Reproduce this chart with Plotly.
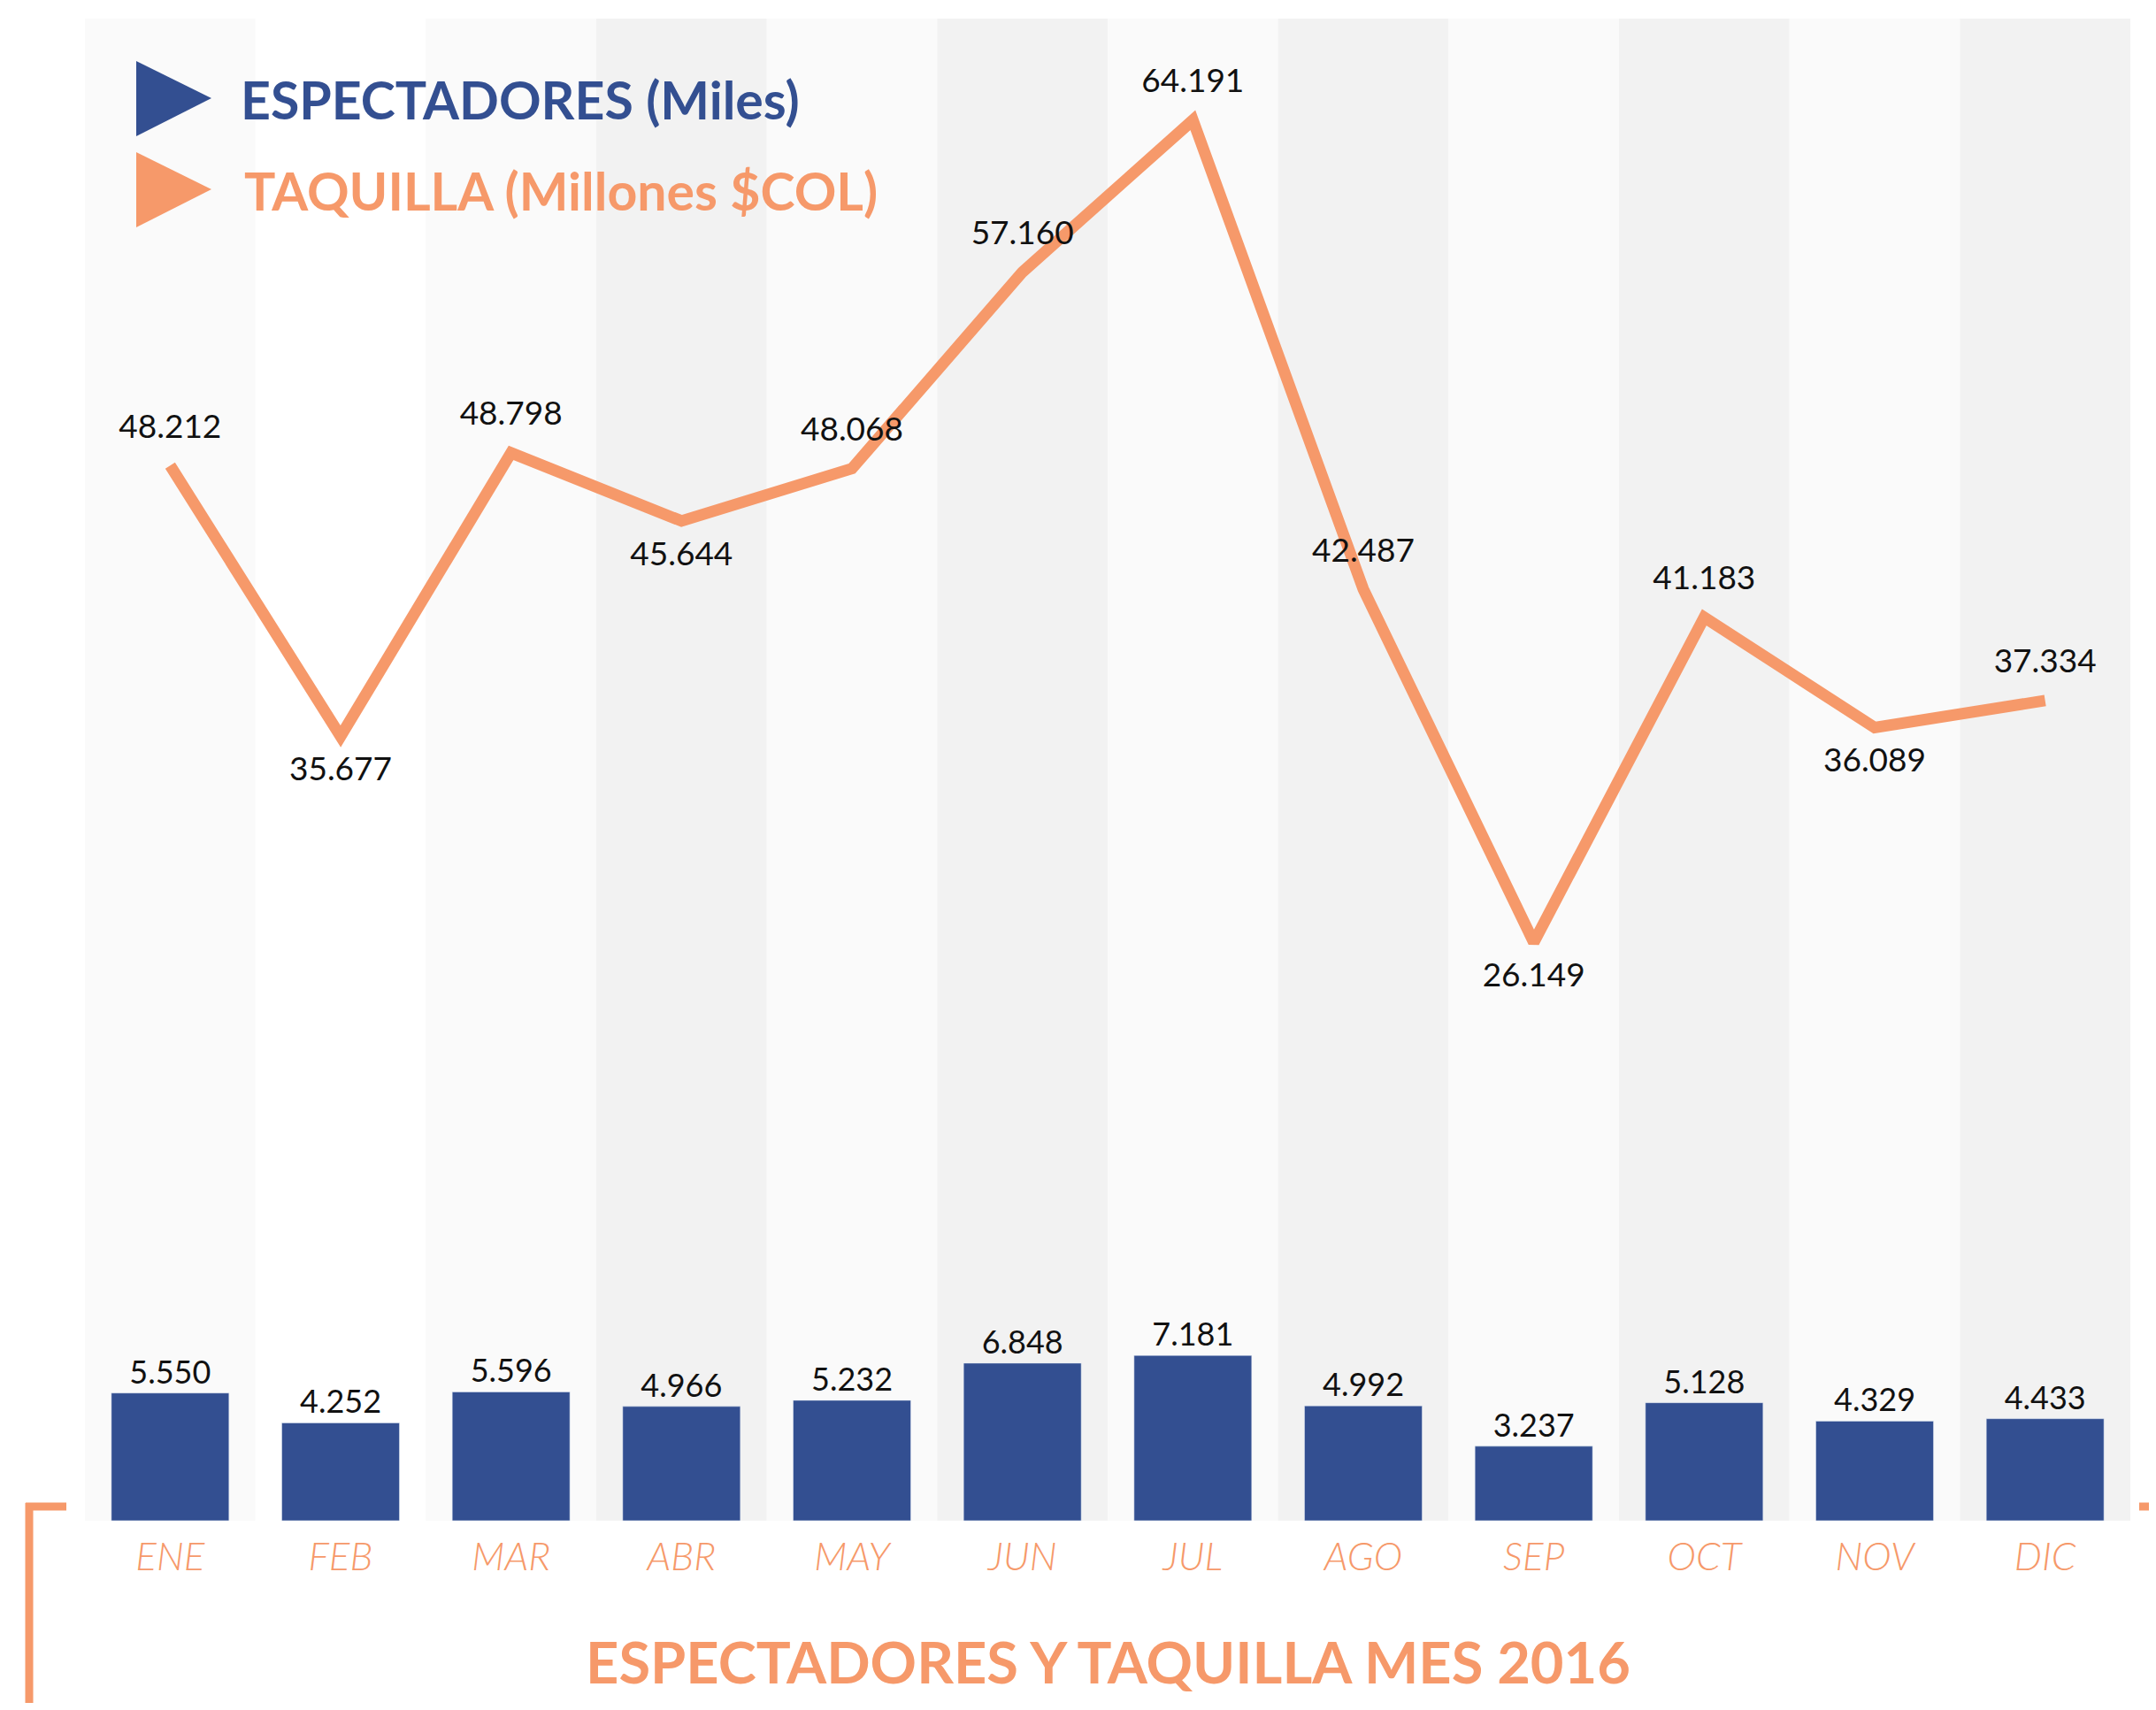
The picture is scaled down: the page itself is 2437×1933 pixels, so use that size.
import plotly.graph_objects as go

# ---------------- data ----------------
meses = ["ENE", "FEB", "MAR", "ABR", "MAY", "JUN", "JUL", "AGO", "SEP", "OCT", "NOV", "DIC"]
espectadores = [5550, 4252, 5596, 4966, 5232, 6848, 7181, 4992, 3237, 5128, 4329, 4433]
taquilla = [48212, 35677, 48798, 45644, 48068, 57160, 64191, 42487, 26149, 41183, 36089, 37334]
label_pos = ["top center", "bottom center", "top center", "bottom center", "top center", "top center",
             "top center", "top center", "bottom center", "top center", "bottom center", "top center"]
stripe_colors = ["#fafafa", "#ffffff", "#fafafa", "#f2f2f2", "#fafafa", "#f2f2f2",
                 "#fafafa", "#f2f2f2", "#fafafa", "#f2f2f2", "#fafafa", "#f2f2f2"]

BLUE = "#334f91"
ORANGE = "#f6996a"
FONT = "Lato"

# page offset caused by the default body margin of the html page
OFF = 8
W, H = 2437 - 2 * OFF, 1933 - 2 * OFF
# plot area in page pixels: x 96..2408, y 21..1719
L, T = 96 - OFF, 21 - OFF
R = W - (2408 - OFF)
B = H - (1719 - OFF)
PW, PH = W - L - R, H - T - B


def px(x):
    """page pixel x -> paper"""
    return (x - OFF - L) / PW


def py(y):
    """page pixel y -> paper"""
    return (H - B - (y - OFF)) / PH


fig = go.Figure()

fig.add_bar(
    x=meses, y=espectadores, marker_color=BLUE, width=0.69,
    texttemplate="%{y:,.0f}", textposition="outside",
    textfont=dict(family=FONT, size=36, color="#111111"),
    cliponaxis=False, hoverinfo="skip",
)

fig.add_scatter(
    x=meses, y=taquilla, yaxis="y2", mode="lines+markers+text",
    line=dict(color=ORANGE, width=13),
    marker=dict(size=34, color="rgba(0,0,0,0)", line=dict(width=0)),
    texttemplate="%{y:,.0f}", textposition=label_pos,
    textfont=dict(family=FONT, size=37, color="#111111"),
    cliponaxis=False, hoverinfo="skip",
)

shapes = []
for i, c in enumerate(stripe_colors):
    shapes.append(dict(type="rect", xref="x", yref="paper", x0=i - 0.5, x1=i + 0.5, y0=0, y1=1,
                       fillcolor=c, line=dict(width=0), layer="below"))

# legend triangles
shapes.append(dict(type="path", xref="paper", yref="paper",
                   path=f"M {px(154)} {py(69)} L {px(239)} {py(111)} L {px(154)} {py(154)} Z",
                   fillcolor=BLUE, line=dict(width=0)))
shapes.append(dict(type="path", xref="paper", yref="paper",
                   path=f"M {px(154)} {py(172)} L {px(239)} {py(214)} L {px(154)} {py(257)} Z",
                   fillcolor=ORANGE, line=dict(width=0)))

# bracket decorations
shapes.append(dict(type="line", xref="paper", yref="paper", x0=px(33), x1=px(33), y0=py(1699), y1=py(1940),
                   line=dict(color=ORANGE, width=9)))
shapes.append(dict(type="line", xref="paper", yref="paper", x0=px(29), x1=px(75), y0=py(1703), y1=py(1703),
                   line=dict(color=ORANGE, width=9)))
shapes.append(dict(type="line", xref="paper", yref="paper", x0=px(2418), x1=px(2440), y0=py(1703), y1=py(1703),
                   line=dict(color=ORANGE, width=9)))

annotations = [
    dict(xref="paper", yref="paper", x=px(270), y=py(112), xanchor="left", yanchor="middle",
         text="<b>ESPECTADORES (Miles)</b>", showarrow=False,
         font=dict(family=FONT, size=59, color=BLUE)),
    dict(xref="paper", yref="paper", x=px(274), y=py(215), xanchor="left", yanchor="middle",
         text="<b>TAQUILLA (Millones $COL)</b>", showarrow=False,
         font=dict(family=FONT, size=59, color=ORANGE)),
    dict(xref="paper", yref="paper", x=0.5, y=py(1878), xanchor="center", yanchor="middle",
         text="<b>ESPECTADORES Y TAQUILLA MES 2016</b>", showarrow=False,
         font=dict(family=FONT, size=65, color=ORANGE)),
]

fig.update_layout(
    width=W, height=H,
    margin=dict(l=L, r=R, t=T, b=B),
    paper_bgcolor="white", plot_bgcolor="white",
    separators=",.",
    showlegend=False,
    bargap=0.31,
    shapes=shapes,
    annotations=annotations,
    xaxis=dict(range=[-0.5, 11.5], showgrid=False, zeroline=False, showline=False,
               ticks="outside", ticklen=2, tickcolor="rgba(0,0,0,0)",
               tickfont=dict(family=FONT, size=44, color=ORANGE, style="italic", weight=300)),
    yaxis=dict(range=[0, 65300], visible=False, showgrid=False),
    yaxis2=dict(range=[-614, 68890], visible=False, overlaying="y", showgrid=False),
)

fig.write_html("out.html")
